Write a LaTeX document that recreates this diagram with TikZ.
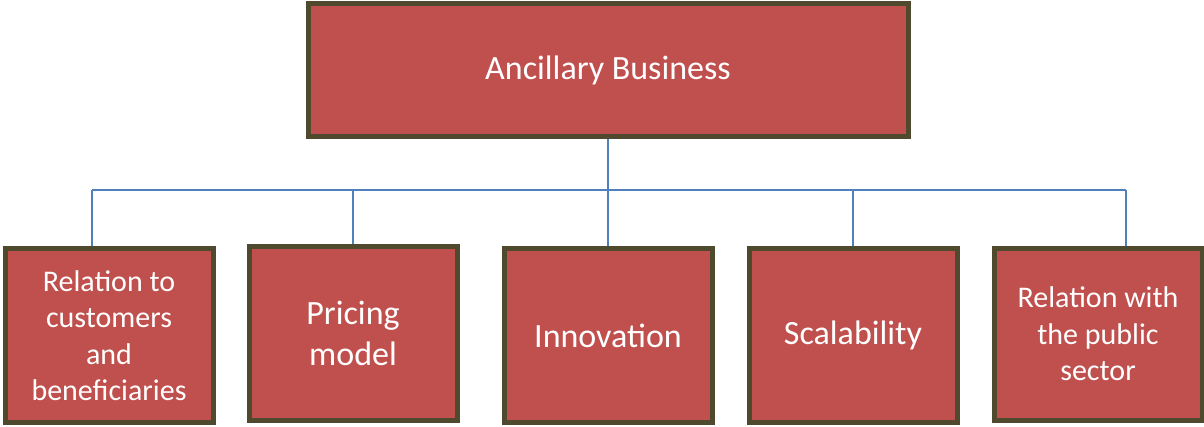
\documentclass[tikz,border=0pt]{standalone}
\usepackage{fontspec}
\setmainfont{Carlito}
\definecolor{boxfill}{HTML}{C0504D}
\definecolor{boxline}{HTML}{4F4A2D}
\definecolor{conn}{HTML}{4F81BD}
\begin{document}
\begin{tikzpicture}[x=1pt,y=-1pt,
  box/.style={draw=boxline, line width=5pt, fill=boxfill, text=white, align=center, inner sep=0pt, rectangle},
  conn/.style={draw=conn, line width=1.6pt},
  big/.style={font=\fontsize{34}{41}\selectfont},
  small/.style={font=\fontsize{30}{36.5}\selectfont}]
\useasboundingbox (0,0) rectangle (1204,426);
\node[box, minimum width=600pt, minimum height=133pt, font=\fontsize{34}{40}\selectfont] (top) at (608,70) {Ancillary Business};
\node[box, small, minimum width=208pt, minimum height=174pt] (b1) at (109,335.5) {Relation to\\customers\\and\\beneficiaries};
\node[box, big, minimum width=208pt, minimum height=174pt] (b2) at (353,333) {Pricing\\model};
\node[box, big, minimum width=208pt, minimum height=174pt] (b3) at (608,335.5) {Innovation};
\node[box, big, minimum width=208pt, minimum height=174pt] (b4) at (853,335.5) {Scalability};
\node[box, small, minimum width=208pt, minimum height=172pt] (b5) at (1098,334) {Relation with\\the public\\sector};
\coordinate (hy) at (0,190);
\coordinate (x1) at (92,0);
\coordinate (x5) at (1126,0);
\draw[conn] (top.south) -- (top.south |- hy);
\draw[conn] (x1 |- hy) -- (x5 |- hy);
\draw[conn] (x1 |- hy) -- (x1 |- b1.north);
\draw[conn] (x5 |- hy) -- (x5 |- b5.north);
\foreach \b in {b2,b3,b4}{
  \draw[conn] (\b.north |- hy) -- (\b.north);
}
\end{tikzpicture}
\end{document}
